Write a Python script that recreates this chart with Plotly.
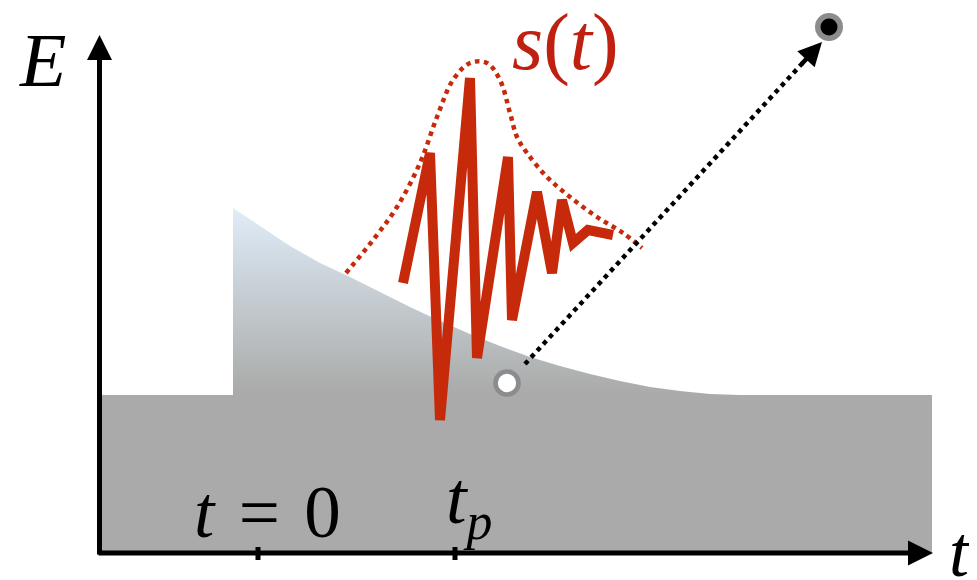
import plotly.graph_objects as go

# ---- data (schematic coordinates: t to the right, screen-like E downward range) ----
# baseline (gray) block
base_t = [100, 932, 932, 100]
base_e = [395, 395, 553, 553]

# decaying potential after t = 0
curve_t = [233, 260, 290, 320, 350, 380, 410, 440, 470, 500, 530, 560, 590, 620, 650, 680, 710, 740, 770, 800, 830]
curve_e = [208, 226, 246, 263, 277, 292, 307, 321, 334, 346, 357, 366, 374, 381, 387, 391, 394, 395, 395, 395, 395]

# signal s(t)
sig_t = [403, 430, 440, 470, 477, 508, 512, 537, 552, 562, 573, 588, 613]
sig_e = [283, 153, 420, 78, 358, 157, 320, 192, 273, 200, 243, 230, 235]

# envelope of s(t)
env_t = [346, 373, 397, 420, 437, 453, 470, 487, 500, 510, 517, 527, 547, 570, 597, 623, 642]
env_e = [273, 240, 207, 163, 117, 80, 63, 63, 80, 113, 137, 153, 177, 197, 217, 233, 248]

# emitted particle path
path_t = [525, 810]
path_e = [364, 55]
start_pt = (507, 383)
end_pt = (829, 27)
arrow_tip = (822, 42)

# tick positions
tick_t = [258, 455]
tick_labels = ["<i>t</i>\u2004=\u20040", "<i>t</i><sub><i>p</i></sub>"]

GRAY = "#a9aaa9"
RED = "#c7290b"
SERIF = "Liberation Serif"
OFF = 8  # page body margin compensation

fig = go.Figure()

# gray block
fig.add_trace(go.Scatter(x=base_t, y=base_e, fill="toself", fillcolor=GRAY,
                         line=dict(width=0), mode="lines", hoverinfo="skip"))

# gradient region
poly_t = [curve_t[0]] + curve_t + [curve_t[-1], curve_t[0]]
poly_e = [395] + curve_e + [395, 395]
fig.add_trace(go.Scatter(
    x=poly_t, y=poly_e, mode="lines", line=dict(width=0), fill="toself",
    fillgradient=dict(type="vertical",
                      colorscale=[[0, "#e0ecf8"], [0.5, "#c4cbd0"], [1, GRAY]],
                      start=208, stop=395),
    hoverinfo="skip"))

# envelope
fig.add_trace(go.Scatter(x=env_t, y=env_e, mode="lines",
                         line=dict(color=RED, width=4.5, dash="4.5px,4.5px", shape="spline"),
                         hoverinfo="skip"))
# signal
fig.add_trace(go.Scatter(x=sig_t, y=sig_e, mode="lines",
                         line=dict(color=RED, width=10), hoverinfo="skip"))

# particle path
fig.add_trace(go.Scatter(x=path_t, y=path_e, mode="lines",
                         line=dict(color="black", width=4.5, dash="4.5px,4.5px"),
                         hoverinfo="skip"))

# start / end points
fig.add_trace(go.Scatter(x=[start_pt[0]], y=[start_pt[1]], mode="markers",
                         marker=dict(size=23, color="white", line=dict(color="#8a8c8e", width=4.7)),
                         hoverinfo="skip"))
fig.add_trace(go.Scatter(x=[end_pt[0]], y=[end_pt[1]], mode="markers",
                         marker=dict(size=22.5, color="black", line=dict(color="#8a8c8e", width=5.5)),
                         hoverinfo="skip"))

# ticks
tx, ty = [], []
for t in tick_t:
    tx += [t, t, None]
    ty += [547, 560, None]
fig.add_trace(go.Scatter(x=tx, y=ty, mode="lines", line=dict(color="black", width=5),
                         hoverinfo="skip"))

ann = []
# axes as arrows
ann.append(dict(x=99.5, y=35, ax=99.5, ay=556, xref="x", yref="y", axref="x", ayref="y",
                text="", showarrow=True, arrowhead=2, arrowsize=1, arrowwidth=5,
                arrowcolor="black", standoff=0, startstandoff=0))
ann.append(dict(x=933, y=553, ax=97, ay=553, xref="x", yref="y", axref="x", ayref="y",
                text="", showarrow=True, arrowhead=2, arrowsize=1, arrowwidth=5,
                arrowcolor="black", standoff=0, startstandoff=0))
# particle arrowhead
ann.append(dict(x=arrow_tip[0], y=arrow_tip[1], ax=arrow_tip[0] - 21.7, ay=arrow_tip[1] + 23.5,
                xref="x", yref="y", axref="x", ayref="y",
                text="", showarrow=True, arrowhead=2, arrowsize=1.05, arrowwidth=4.5,
                arrowcolor="black", standoff=0, startstandoff=0))

# labels
ann.append(dict(x=42, y=60, text="<i>E</i>", showarrow=False, xref="x", yref="y",
                font=dict(family=SERIF, size=76, color="black"), xanchor="center", yanchor="middle"))
ann.append(dict(x=960, y=552, text="<i>t</i>", showarrow=False, xref="x", yref="y",
                font=dict(family=SERIF, size=72, color="black"), xanchor="center", yanchor="middle"))
ann.append(dict(x=565, y=42, text="<i>s</i>(<i>t</i>)", showarrow=False, xref="x", yref="y",
                font=dict(family=SERIF, size=80, color="#bf2010"), xanchor="center", yanchor="middle"))
ann.append(dict(x=267, y=512, text=tick_labels[0], showarrow=False, xref="x", yref="y",
                font=dict(family=SERIF, size=73, color="black"), xanchor="center", yanchor="middle"))
ann.append(dict(x=469, y=503, text=tick_labels[1], showarrow=False, xref="x", yref="y",
                font=dict(family=SERIF, size=74, color="black"), xanchor="center", yanchor="middle"))

fig.update_layout(
    width=977, height=580, margin=dict(l=0, r=0, t=0, b=0),
    paper_bgcolor="white", plot_bgcolor="white", showlegend=False,
    xaxis=dict(range=[OFF, 977 + OFF], visible=False, fixedrange=True),
    yaxis=dict(range=[580 + OFF, OFF], visible=False, fixedrange=True),
    annotations=ann,
)

fig.write_html("out.html")
